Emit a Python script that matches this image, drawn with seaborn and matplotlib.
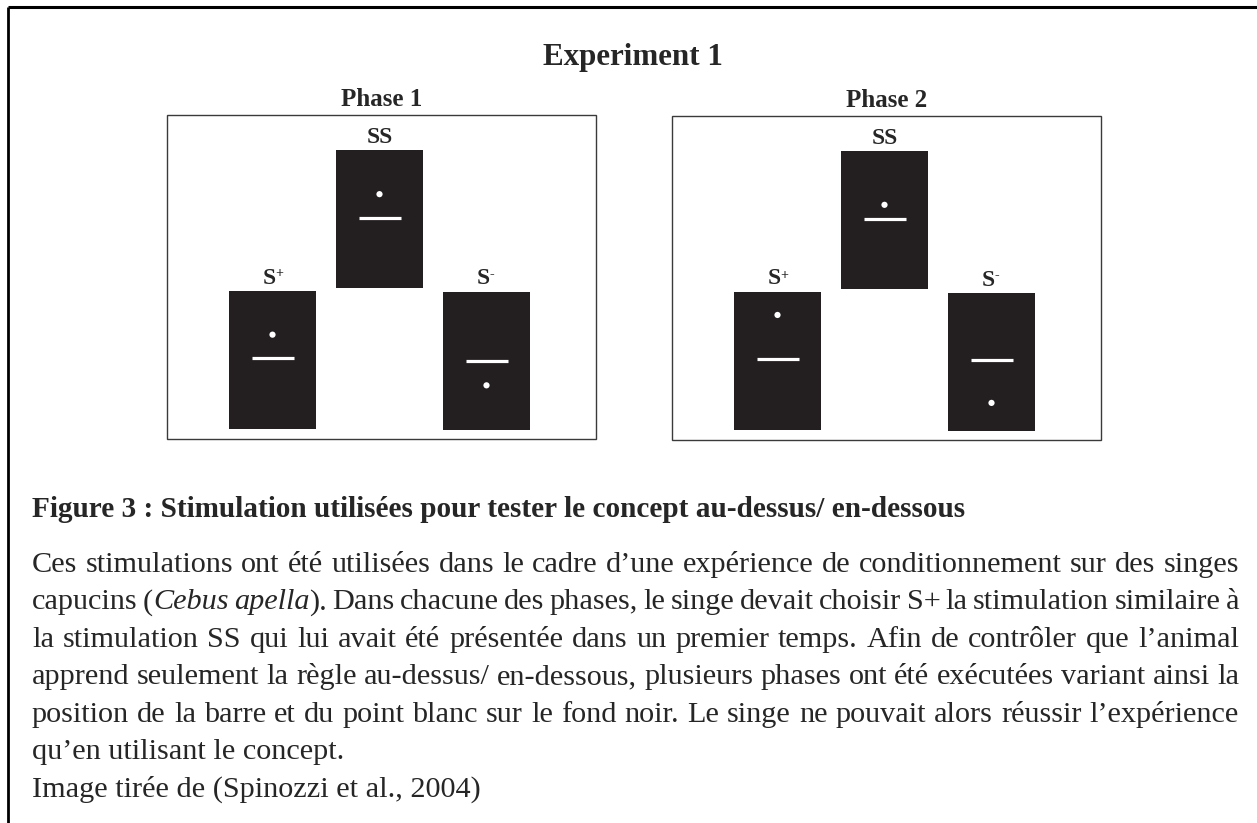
import matplotlib
matplotlib.use("Agg")
import matplotlib.pyplot as plt
from matplotlib.patches import Rectangle
import pandas as pd
import seaborn as sns

# --- data -----------------------------------------------------------------
title = "Experiment 1"
phases = ["Phase 1", "Phase 2"]
stimuli = ["SS", "S+", "S-"]
# position of the white dot / white bar inside each card (fraction of card height from top)
dot_pos = {"Phase 1": [0.32, 0.32, 0.68], "Phase 2": [0.39, 0.17, 0.80]}
bar_pos = {"Phase 1": [0.49, 0.49, 0.50], "Phase 2": [0.49, 0.49, 0.49]}

caption_title = "Figure 3 : Stimulation utilisées pour tester le concept au-dessus/ en-dessous"
# '*' toggles italics
caption_justified = [
    "Ces stimulations ont été utilisées dans le cadre d’une expérience de conditionnement sur des singes",
    "capucins (*Cebus apella*). Dans chacune des phases, le singe devait choisir S+ la stimulation similaire à",
    "la stimulation SS qui lui avait été présentée dans un premier temps. Afin de contrôler que l’animal",
    "apprend seulement la règle au-dessus/ en-dessous, plusieurs phases ont été exécutées variant ainsi la",
    "position de la barre et du point blanc sur le fond noir. Le singe ne pouvait alors réussir l’expérience",
]
caption_tail = ["qu’en utilisant le concept.", "Image tirée de (Spinozzi et al., 2004)"]

# --- layout (pixels) ------------------------------------------------------
W, H = 1257, 823
box_left = {"Phase 1": 167, "Phase 2": 672}
box_top = {"Phase 1": 115, "Phase 2": 116}
box_w, box_h = 429, 324
card_dx = {"SS": 169, "S+": 62, "S-": 276}
card_dy = {"SS": 35, "S+": 175.5, "S-": 176.5}
card_w, card_h = 87, 138
bar_len = 42
card_color = "#231f20"

sns.set_theme(style="white")
plt.rcParams["font.family"] = ["Liberation Serif", "DejaVu Serif"]

fig = plt.figure(figsize=(W / 100, H / 100), dpi=100)
ax = fig.add_axes([0, 0, 1, 1])

# outer frame (top and left only)
ax.plot([8, W], [7, 7], color="black", lw=2.2, solid_capstyle="butt")
ax.plot([8, 8], [7, H], color="black", lw=2.0, solid_capstyle="butt")

ax.text(633, 65, title, ha="center", va="baseline", fontsize=22.3, fontweight="bold")

rows = []
for p in phases:
    bx, by = box_left[p], box_top[p]
    ax.add_patch(Rectangle((bx, by), box_w, box_h, fill=False, ec="#3a3a3a", lw=1.0))
    ax.text(bx + box_w / 2 + 0.5, by - 9, p, ha="center", va="baseline",
            fontsize=18, fontweight="bold")
    for i, s in enumerate(stimuli):
        cx = bx + card_dx[s] + card_w / 2
        top = by + card_dy[s]
        rows.append({"phase": p, "stim": s, "cx": cx, "top": top,
                     "dot_y": top + dot_pos[p][i] * card_h,
                     "bar_y": top + bar_pos[p][i] * card_h})

cards = pd.DataFrame(rows)

# cards as bars
ax.bar(cards["cx"], card_h, bottom=cards["top"], width=card_w, color=card_color, lw=0)
# white bars and dots
ax.hlines(cards["bar_y"], cards["cx"] - bar_len / 2, cards["cx"] + bar_len / 2,
          color="white", lw=2.3)
sns.scatterplot(data=cards, x="cx", y="dot_y", color="white", s=20, edgecolor="none",
                ax=ax, legend=False, zorder=5)
ax.set_xlim(0, W)
ax.set_ylim(H, 0)
ax.axis("off")

# card labels
for _, r in cards.iterrows():
    ly = r["top"] - 7
    if r["stim"] == "SS":
        ax.text(r["cx"], ly, "SS", ha="center", va="baseline", fontsize=17, fontweight="bold")
    else:
        ax.text(r["cx"] + 3, ly, "S", ha="right", va="baseline", fontsize=17, fontweight="bold")
        ax.text(r["cx"] + 3, ly - 6, r["stim"][1], ha="left", va="baseline", fontsize=10,
                fontweight="bold")

# caption
fs = 21.8
x0, x1 = 32, 1239
base0, step = 572, 37.4
ax.text(x0, 517, caption_title, ha="left", va="baseline", fontsize=21.1, fontweight="bold")

fig.canvas.draw()
renderer = fig.canvas.get_renderer()


def split_words(line, italic=False):
    words = []
    for w in line.split(" "):
        segs = []
        for i, part in enumerate(w.split("*")):
            if i > 0:
                italic = not italic
            if part:
                segs.append((part, italic))
        words.append(segs)
    return words


for k, line in enumerate(caption_justified):
    y = base0 + k * step
    placed = []
    total = 0
    for segs in split_words(line):
        items = []
        ww = 0
        for txt, it in segs:
            t = ax.text(0, y, txt, ha="left", va="baseline", fontsize=fs,
                        style="italic" if it else "normal")
            w = t.get_window_extent(renderer).width
            items.append((t, w))
            ww += w
        placed.append((items, ww))
        total += ww
    gap = (x1 - x0 - total) / (len(placed) - 1)
    x = x0
    for items, ww in placed:
        xx = x
        for t, w in items:
            t.set_x(xx)
            xx += w
        x += ww + gap

for k, line in enumerate(caption_tail):
    y = base0 + (len(caption_justified) + k) * step
    ax.text(x0, y, line, ha="left", va="baseline", fontsize=fs)

fig.savefig("out.png", dpi=100, facecolor="white")
